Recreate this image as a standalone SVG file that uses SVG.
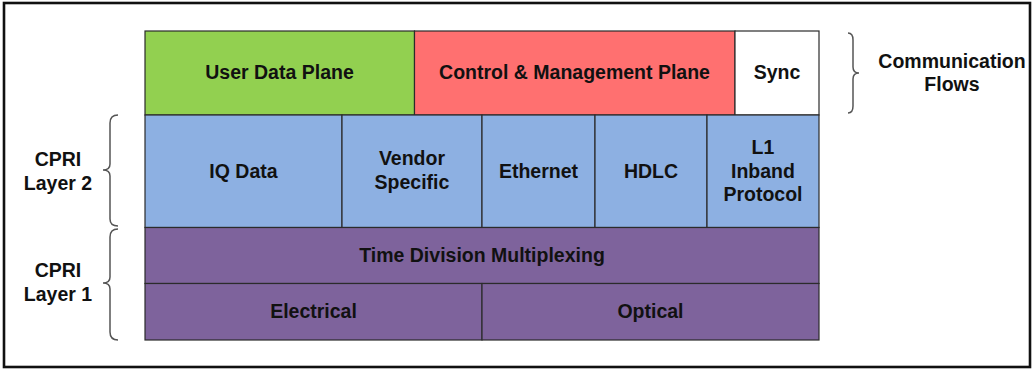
<svg xmlns="http://www.w3.org/2000/svg" width="1032" height="369" viewBox="0 0 1032 369">
<style>
.box{stroke:#2b2b2b;stroke-width:1.2}
.g{fill:#92D050}.r{fill:#FF7070}.w{fill:#FFFFFF}.b{fill:#8DB0E2}.p{fill:#7E639C}
text{font-family:"Liberation Sans",Arial,sans-serif;font-weight:bold;font-size:19.5px;fill:#111;text-anchor:middle}
.brace{fill:none;stroke:#555;stroke-width:1.5}
</style>
<rect x="0" y="0" width="1032" height="369" fill="#fff"/>
<rect x="4" y="3" width="1026" height="364" fill="#fff" stroke="#111" stroke-width="2.6"/>
<g id="user-data-plane"><rect class="box g" x="145" y="31" width="269.5" height="84"/><text x="279.5" y="79">User Data Plane</text></g>
<g id="control-management-plane"><rect class="box r" x="414.5" y="31" width="320.5" height="84"/><text x="574.5" y="79">Control &amp; Management Plane</text></g>
<g id="sync"><rect class="box w" x="735" y="31" width="84" height="84"/><text x="777" y="79">Sync</text></g>
<g id="iq-data"><rect class="box b" x="145" y="115" width="197" height="112.5"/><text x="243.5" y="177.5">IQ Data</text></g>
<g id="vendor-specific"><rect class="box b" x="342" y="115" width="140" height="112.5"/><text x="412" y="165">Vendor</text><text x="412" y="188.5">Specific</text></g>
<g id="ethernet"><rect class="box b" x="482" y="115" width="113" height="112.5"/><text x="538.5" y="177.5">Ethernet</text></g>
<g id="hdlc"><rect class="box b" x="595" y="115" width="112" height="112.5"/><text x="651" y="177.5">HDLC</text></g>
<g id="l1-inband"><rect class="box b" x="707" y="115" width="112" height="112.5"/><text x="763" y="154">L1</text><text x="763" y="177.5">Inband</text><text x="763" y="201">Protocol</text></g>
<g id="tdm"><rect class="box p" x="145" y="227.5" width="674" height="56"/><text x="482" y="261.5">Time Division Multiplexing</text></g>
<g id="electrical"><rect class="box p" x="145" y="283.5" width="337" height="56.5"/><text x="313.5" y="317.5">Electrical</text></g>
<g id="optical"><rect class="box p" x="482" y="283.5" width="337" height="56.5"/><text x="650.5" y="317.5">Optical</text></g>
<g id="communication-flows"><text x="952" y="68">Communication</text><text x="952" y="91">Flows</text></g>
<g id="cpri-layer2"><text x="58" y="166">CPRI</text><text x="58" y="189.5">Layer 2</text></g>
<g id="cpri-layer1"><text x="58" y="276.5">CPRI</text><text x="58" y="300.5">Layer 1</text></g>
<g id="connectors">
<path class="brace" d="M848,33 Q853,33 853,40 L853,67 Q853,73 859,73 Q853,73 853,79 L853,106 Q853,113 848,113"/>
<path class="brace" d="M118,115 Q110,115 110,123 L110,164 Q110,170 103,170 Q110,170 110,176 L110,219 Q110,226 118,226"/>
<path class="brace" d="M118,229 Q110,229 110,237 L110,277 Q110,283 103,283 Q110,283 110,289 L110,332 Q110,340 118,340"/>
</g>
</svg>
